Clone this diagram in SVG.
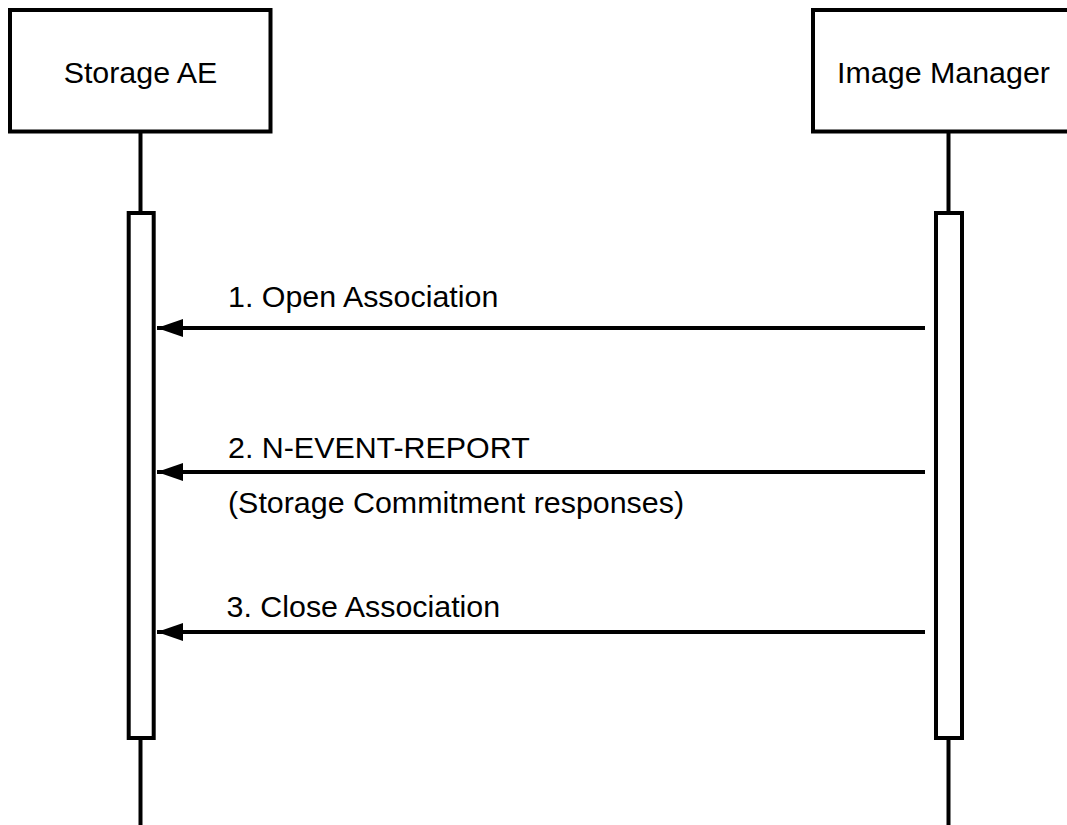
<svg xmlns="http://www.w3.org/2000/svg" width="1067" height="825" viewBox="0 0 1067 825">
  <style>
    .box { fill: #ffffff; stroke: #000000; stroke-width: 4; }
    .life { stroke: #000000; stroke-width: 4; fill: none; }
    .msg { stroke: #000000; stroke-width: 4; fill: none; marker-end: url(#arrow); }
    .lbl { font-family: "Liberation Sans", Arial, sans-serif; font-size: 30.4px; fill: #000000; }
  </style>
  <defs>
    <marker id="arrow" markerUnits="userSpaceOnUse" markerWidth="28" markerHeight="20" refX="26" refY="9" orient="auto">
      <path d="M0,0 L26,9 L0,18 Z" fill="#000000"/>
    </marker>
  </defs>
  <rect width="1067" height="825" fill="#ffffff"/>
  <g id="storage-ae">
    <line class="life" x1="140.5" y1="131" x2="140.5" y2="213"/>
    <line class="life" x1="140.5" y1="738" x2="140.5" y2="825"/>
    <rect class="box" x="10" y="10" width="260.5" height="121.5"/>
    <text class="lbl" x="140.5" y="83" text-anchor="middle">Storage AE</text>
    <rect class="box" x="128.7" y="213" width="25" height="525"/>
  </g>
  <g id="image-manager">
    <line class="life" x1="948.5" y1="131" x2="948.5" y2="213"/>
    <line class="life" x1="948.5" y1="738" x2="948.5" y2="825"/>
    <rect class="box" x="813" y="10" width="272" height="121.5"/>
    <text class="lbl" x="943.5" y="83" text-anchor="middle">Image Manager</text>
    <rect class="box" x="936" y="213" width="26" height="525"/>
  </g>
  <g id="connectors">
    <g id="msg1">
      <line class="msg" x1="925" y1="328" x2="157" y2="328"/>
      <text class="lbl" x="228" y="306.5">1. Open Association</text>
    </g>
    <g id="msg2">
      <line class="msg" x1="925" y1="472" x2="157" y2="472"/>
      <text class="lbl" x="228" y="458">2. N-EVENT-REPORT</text>
      <text class="lbl" x="228" y="513">(Storage Commitment responses)</text>
    </g>
    <g id="msg3">
      <line class="msg" x1="925" y1="632" x2="157" y2="632"/>
      <text class="lbl" x="226.5" y="617">3. Close Association</text>
    </g>
  </g>
</svg>
